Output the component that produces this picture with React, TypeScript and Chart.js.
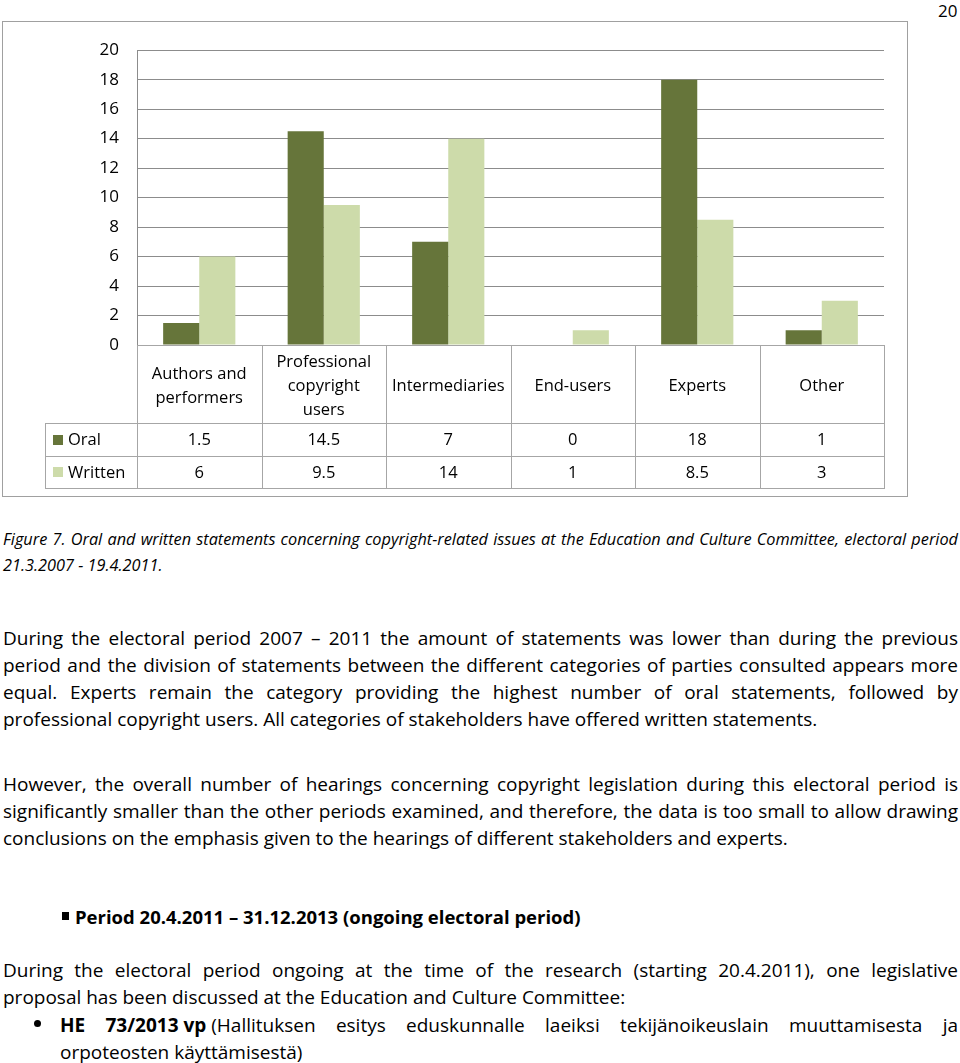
import React, { useEffect, useLayoutEffect, useRef } from "react";
import { Chart, registerables } from "chart.js";

Chart.register(...registerables);

const categories: string[][] = [
  ["Authors and", "performers"],
  ["Professional", "copyright", "users"],
  ["Intermediaries"],
  ["End-users"],
  ["Experts"],
  ["Other"],
];
const seriesNames = ["Oral", "Written"];
const oralValues = [1.5, 14.5, 7, 0, 18, 1];
const writtenValues = [6, 9.5, 14, 1, 8.5, 3];
const yMin = 0;
const yMax = 20;
const yStep = 2;

const ORAL_COLOR = "#66753A";
const WRITTEN_COLOR = "#CDDBAA";
const GRID_COLOR = "#8C8C8C";
const TABLE_COLOR = "#A6A6A6";
const FONT = "'Open Sans', Lato, sans-serif";

const tablePlugin = {
  id: "dataTable",
  afterDraw(chart: any) {
    const ctx = chart.ctx as CanvasRenderingContext2D;
    const area = chart.chartArea;
    const xs = chart.scales.x;
    const n = categories.length;
    const colW = (area.right - area.left) / n;
    const top = Math.round(area.bottom);
    const headerBottom = top + 78;
    const row1Bottom = headerBottom + 33;
    const row2Bottom = row1Bottom + 32;
    const legendLeft = area.left - 92;
    const left = Math.round(area.left);
    const right = Math.round(area.right);

    ctx.save();
    ctx.strokeStyle = TABLE_COLOR;
    ctx.lineWidth = 1;
    ctx.beginPath();
    ctx.moveTo(left, top + 0.5);
    ctx.lineTo(right + 1, top + 0.5);
    [headerBottom, row1Bottom, row2Bottom].forEach((y) => {
      ctx.moveTo(legendLeft, y + 0.5);
      ctx.lineTo(right + 1, y + 0.5);
    });
    for (let i = 0; i <= n; i++) {
      const x = Math.round(area.left + i * colW) + 0.5;
      ctx.moveTo(x, top);
      ctx.lineTo(x, row2Bottom + 1);
    }
    ctx.moveTo(legendLeft + 0.5, headerBottom);
    ctx.lineTo(legendLeft + 0.5, row2Bottom + 1);
    ctx.stroke();

    ctx.fillStyle = "#000";
    ctx.textAlign = "center";
    ctx.textBaseline = "middle";
    ctx.font = `16.5px ${FONT}`;
    const headerMid = top + 41;
    categories.forEach((lines, i) => {
      const cx = xs.getPixelForValue(i);
      const lh = 24;
      const start = headerMid - ((lines.length - 1) * lh) / 2;
      lines.forEach((t, k) => ctx.fillText(t, cx, start + k * lh));
    });

    const rows = [
      { name: seriesNames[0], values: oralValues, color: ORAL_COLOR, mid: (headerBottom + row1Bottom) / 2 + 1 },
      { name: seriesNames[1], values: writtenValues, color: WRITTEN_COLOR, mid: (row1Bottom + row2Bottom) / 2 + 1 },
    ];
    rows.forEach((r) => {
      r.values.forEach((v, i) => {
        ctx.textAlign = "center";
        ctx.fillText(String(v), xs.getPixelForValue(i), r.mid);
      });
      ctx.fillStyle = r.color;
      ctx.fillRect(legendLeft + 8, Math.round(r.mid - 6), 10, 10);
      ctx.fillStyle = "#000";
      ctx.textAlign = "left";
      ctx.fillText(r.name, legendLeft + 23, r.mid);
    });
    ctx.restore();
  },
};

function ChartBox() {
  const ref = useRef<HTMLCanvasElement>(null);
  useEffect(() => {
    if (!ref.current) return;
    const chart = new Chart(ref.current, {
      type: "bar",
      data: {
        labels: categories.map((c) => c.join(" ")),
        datasets: [
          { label: seriesNames[0], data: oralValues, backgroundColor: ORAL_COLOR, categoryPercentage: 0.58, barPercentage: 1 },
          { label: seriesNames[1], data: writtenValues, backgroundColor: WRITTEN_COLOR, categoryPercentage: 0.58, barPercentage: 1 },
        ],
      },
      options: {
        animation: false,
        responsive: false,
        maintainAspectRatio: false,
        layout: { autoPadding: false, padding: { top: 26, right: 25, bottom: 10, left: 0 } },
        plugins: { legend: { display: false }, tooltip: { enabled: false } },
        scales: {
          x: {
            grid: { display: false },
            border: { display: true, color: TABLE_COLOR },
            ticks: { display: false },
            afterFit: (s: any) => {
              s.height = 143;
            },
          },
          y: {
            min: yMin,
            max: yMax,
            ticks: { stepSize: yStep, color: "#000", font: { family: FONT, size: 17 }, padding: 18 },
            grid: { color: GRID_COLOR, drawTicks: false },
            border: { display: true, color: GRID_COLOR },
            afterFit: (s: any) => {
              s.width = 134;
            },
          },
        },
      },
      plugins: [tablePlugin],
    } as any);
    const redraw = () => chart.update();
    (document as any).fonts?.ready?.then(redraw);
    return () => chart.destroy();
  }, []);
  return <canvas ref={ref} width={906} height={476} style={{ position: "absolute", left: 3, top: 22, width: 906, height: 476 }} />;
}

const BODY_SIZE = 19;
const bodyFont: React.CSSProperties = { fontFamily: FONT, fontSize: BODY_SIZE, color: "#000", lineHeight: "27px", whiteSpace: "nowrap" };

function Line({ y, left = 3, right = 958, justify = false, children, style }: any) {
  const inner = useRef<HTMLSpanElement>(null);
  useLayoutEffect(() => {
    if (!justify) return;
    const fit = () => {
      const el = inner.current;
      if (!el) return;
      el.style.wordSpacing = "0px";
      const natural = el.getBoundingClientRect().width;
      const spaces = (el.textContent || "").split(" ").length - 1;
      if (spaces > 0) el.style.wordSpacing = `${(right - left - natural) / spaces}px`;
    };
    fit();
    (document as any).fonts?.ready?.then(fit);
  }, []);
  return (
    <div
      style={{
        position: "absolute",
        left,
        top: y - 13.5,
        width: right - left,
        height: 27,
        ...bodyFont,
        ...style,
      } as React.CSSProperties}
    >
      <span ref={inner} style={{ display: "inline-block", whiteSpace: "nowrap" }}>
        {children}
      </span>
    </div>
  );
}

export default function App() {
  return (
    <div style={{ position: "absolute", left: 0, top: 0, width: 960, height: 1063, background: "#fff", overflow: "hidden" }}>
      <div style={{ position: "absolute", left: 938, top: -3, ...bodyFont, fontSize: 17 }}>20</div>
      <div style={{ position: "absolute", left: 2, top: 21, width: 906, height: 476, border: "1px solid #A0A0A0", boxSizing: "border-box" }} />
      <ChartBox />

      <Line y={539} justify style={{ fontStyle: "italic", fontSize: 16.3 }}>
        Figure 7. Oral and written statements concerning copyright-related issues at the Education and Culture Committee, electoral period
      </Line>
      <Line y={565} style={{ fontStyle: "italic", fontSize: 16.3 }}>21.3.2007 - 19.4.2011.</Line>

      <Line y={638} justify>During the electoral period 2007 – 2011 the amount of statements was lower than during the previous</Line>
      <Line y={665} justify>period and the division of statements between the different categories of parties consulted appears more</Line>
      <Line y={692} justify>equal. Experts remain the category providing the highest number of oral statements, followed by</Line>
      <Line y={719}>professional copyright users. All categories of stakeholders have offered written statements.</Line>

      <Line y={784} justify>However, the overall number of hearings concerning copyright legislation during this electoral period is</Line>
      <Line y={811} justify>significantly smaller than the other periods examined, and therefore, the data is too small to allow drawing</Line>
      <Line y={838}>conclusions on the emphasis given to the hearings of different stakeholders and experts.</Line>

      <div style={{ position: "absolute", left: 62, top: 912, width: 7, height: 8, background: "#000" }} />
      <Line y={916} left={75} style={{ fontWeight: 700, fontSize: 18.5 }}>Period 20.4.2011 – 31.12.2013 (ongoing electoral period)</Line>

      <Line y={970} justify>During the electoral period ongoing at the time of the research (starting 20.4.2011), one legislative</Line>
      <Line y={997}>proposal has been discussed at the Education and Culture Committee:</Line>
      <div style={{ position: "absolute", left: 34, top: 1020, width: 7, height: 7, borderRadius: "50%", background: "#000" }} />
      <Line y={1025} left={60} justify>
        <b>HE</b>{" "}
        <span style={{ wordSpacing: "0px" }}>
          <b>73/2013{"\u00a0"}vp</b>{"\u00a0"}(Hallituksen
        </span>{" "}
        esitys eduskunnalle laeiksi tekijänoikeuslain muuttamisesta ja
      </Line>
      <Line y={1052} left={60}>orpoteosten käyttämisestä)</Line>
    </div>
  );
}
